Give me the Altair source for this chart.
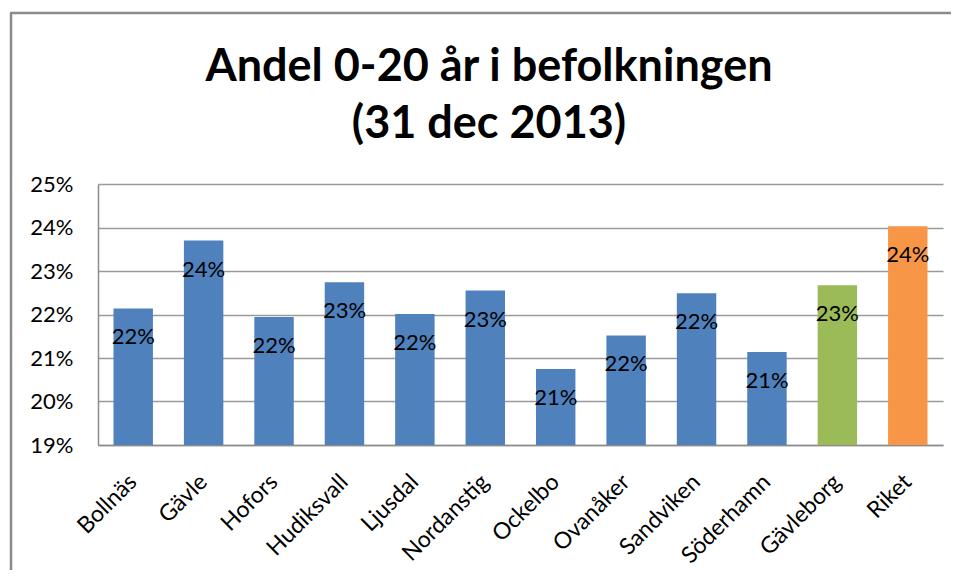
import altair as alt
import pandas as pd

categories = ["Bollnäs", "Gävle", "Hofors", "Hudiksvall", "Ljusdal", "Nordanstig",
              "Ockelbo", "Ovanåker", "Sandviken", "Söderhamn", "Gävleborg", "Riket"]
shares = [0.2214, 0.2370, 0.2194, 0.2274, 0.2201, 0.2255,
          0.2075, 0.2152, 0.2249, 0.2114, 0.2267, 0.2403]
groups = ["Kommun"] * 10 + ["Län", "Riket"]
group_names = ["Kommun", "Län", "Riket"]
group_colors = ["#4F81BD", "#9BBB59", "#F79646"]
y_ticks = [0.19, 0.20, 0.21, 0.22, 0.23, 0.24, 0.25]
title_lines = ["Andel 0-20 år i befolkningen", "(31 dec 2013)"]

df = pd.DataFrame({"kategori": categories, "andel": shares, "grupp": groups})
title_df = pd.DataFrame({"rad": [0]})

FONT = "Lato"

x_enc = alt.X("kategori:N", sort=categories, title=None,
              scale=alt.Scale(paddingInner=0.44, paddingOuter=0.22),
              axis=alt.Axis(labelAngle=-45, labelFontSize=23, labelFont=FONT,
                            labelColor="#000000", labelPadding=33, ticks=False,
                            domainColor="#8c8c8c", domainWidth=1.5,
                            labelAlign="right", labelBaseline="middle"))
y_enc = alt.Y("andel:Q", title=None,
              scale=alt.Scale(domain=[0.19, 0.25], nice=False, zero=False),
              axis=alt.Axis(values=y_ticks, format=".0%", labelFontSize=22,
                            labelFont=FONT, labelColor="#000000", labelPadding=25,
                            ticks=False, domainColor="#8c8c8c", domainWidth=1.5,
                            gridColor="#9a9a9a", gridWidth=1.5))

bars = alt.Chart(df).mark_bar(clip=True).encode(
    x=x_enc,
    y=y_enc,
    y2=alt.datum(0.19),
    color=alt.Color("grupp:N", scale=alt.Scale(domain=group_names, range=group_colors),
                    legend=None),
)

labels = alt.Chart(df).mark_text(
    font=FONT, fontSize=22, color="#000000", baseline="middle", align="center", dy=29
).encode(
    x=alt.X("kategori:N", sort=categories),
    y=alt.Y("andel:Q"),
    text=alt.Text("andel:Q", format=".0%"),
)

title = alt.Chart(title_df).mark_text(
    font=FONT, fontSize=45, fontWeight="bold", color="#000000",
    align="center", baseline="alphabetic", lineHeight=57,
).encode(
    x=alt.value(391), y=alt.value(-103), text=alt.value(title_lines)
)

frame_left = alt.Chart(title_df).mark_rule(color="#8a8a8a", strokeWidth=2.5).encode(
    x=alt.value(-87), y=alt.value(-171), y2=alt.value(420))
frame_top = alt.Chart(title_df).mark_rule(color="#8a8a8a", strokeWidth=2.5).encode(
    x=alt.value(-88), x2=alt.value(870), y=alt.value(-171))

chart = alt.layer(frame_left, frame_top, bars, labels, title).properties(
    width=845,
    height=261,
    padding={"left": 90, "top": 176, "right": 8, "bottom": 125},
    autosize=alt.AutoSizeParams(type="none"),
).configure_view(stroke=None)

chart.save("out.html", embed_options={"renderer": "svg", "actions": False})
